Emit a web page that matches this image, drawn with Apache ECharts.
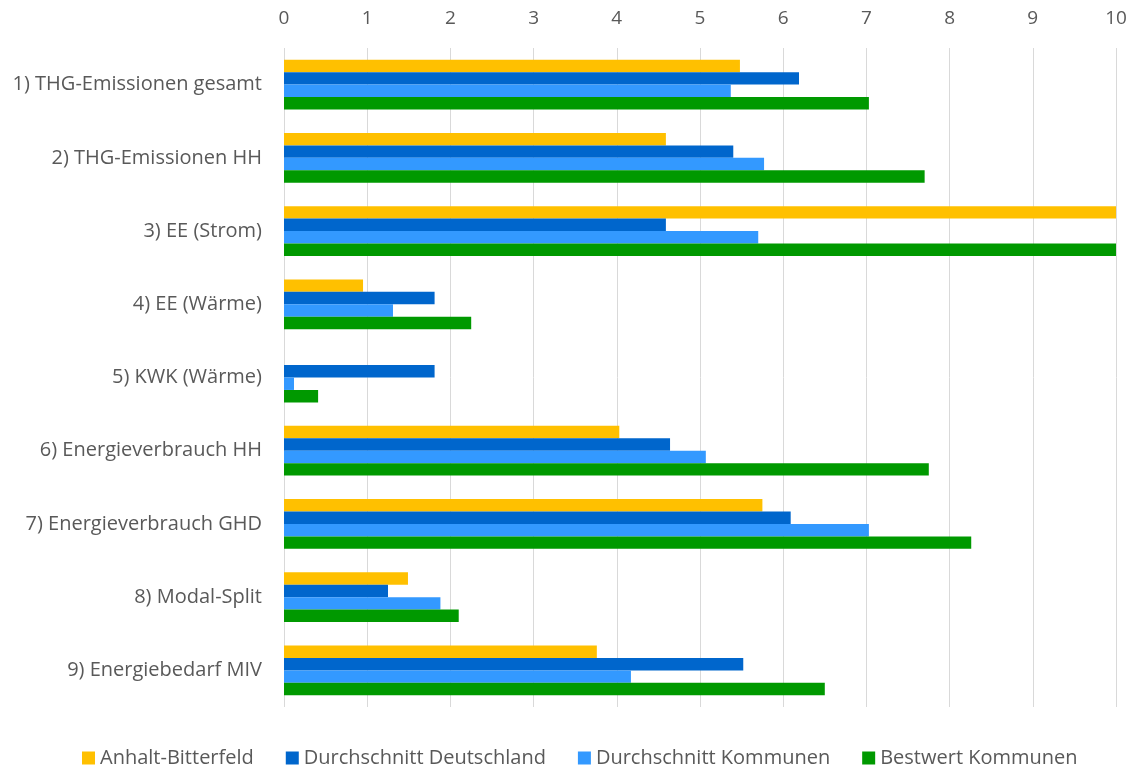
<!DOCTYPE html>
<html>
<head>
<meta charset="utf-8">
<script src="https://cdn.jsdelivr.net/npm/echarts@6/dist/echarts.min.js"></script>
<style>html,body{margin:0;padding:0;background:#fff}#c{width:1133px;height:769px}</style>
</head>
<body>
<div id="c"></div>
<script>
const categories = ["1) THG-Emissionen gesamt","2) THG-Emissionen HH","3) EE (Strom)","4) EE (Wärme)","5) KWK (Wärme)","6) Energieverbrauch HH","7) Energieverbrauch GHD","8) Modal-Split","9) Energiebedarf MIV"];
const anhaltBitterfeld = [5.48, 4.59, 10, 0.95, 0, 4.03, 5.75, 1.49, 3.76];
const durchschnittDeutschland = [6.19, 5.40, 4.59, 1.81, 1.81, 4.64, 6.09, 1.25, 5.52];
const durchschnittKommunen = [5.37, 5.77, 5.70, 1.31, 0.12, 5.07, 7.03, 1.88, 4.17];
const bestwertKommunen = [7.03, 7.70, 10, 2.25, 0.41, 7.75, 8.26, 2.10, 6.50];
const seriesNames = ["Anhalt-Bitterfeld","Durchschnitt Deutschland","Durchschnitt Kommunen","Bestwert Kommunen"];
const colors = ["#FFC000","#0066CC","#3399FF","#009900"];
const font = "'Open Sans', sans-serif";
const chart = echarts.init(document.getElementById('c'));
const dataSets = [anhaltBitterfeld, durchschnittDeutschland, durchschnittKommunen, bestwertKommunen];
chart.setOption({
  animation: false,
  color: colors,
  textStyle: {fontFamily: font},
  grid: {left: 284, right: 17, top: 48, bottom: 62, containLabel: false},
  legend: {
    top: 743, left: 77, itemWidth: 13, itemHeight: 13, itemGap: 32,
    icon: 'rect',
    textStyle: {fontSize: 20, color: '#595959', fontFamily: font},
    data: seriesNames
  },
  xAxis: {
    type: 'value', position: 'top', min: 0, max: 10, interval: 1,
    axisLine: {show: false}, axisTick: {show: false},
    axisLabel: {fontSize: 19, color: '#595959', margin: 20, fontFamily: font},
    splitLine: {lineStyle: {color: '#d9d9d9', width: 1}}
  },
  yAxis: {
    type: 'category', inverse: true, data: categories,
    axisLine: {show: false}, axisTick: {show: false},
    axisLabel: {fontSize: 20, color: '#595959', margin: 22, fontFamily: font}
  },
  series: dataSets.map((d, i) => ({
    name: seriesNames[i], type: 'bar', data: d,
    barGap: '0%', barCategoryGap: '32%',
    itemStyle: {color: colors[i]}
  }))
});
</script>
</body>
</html>
